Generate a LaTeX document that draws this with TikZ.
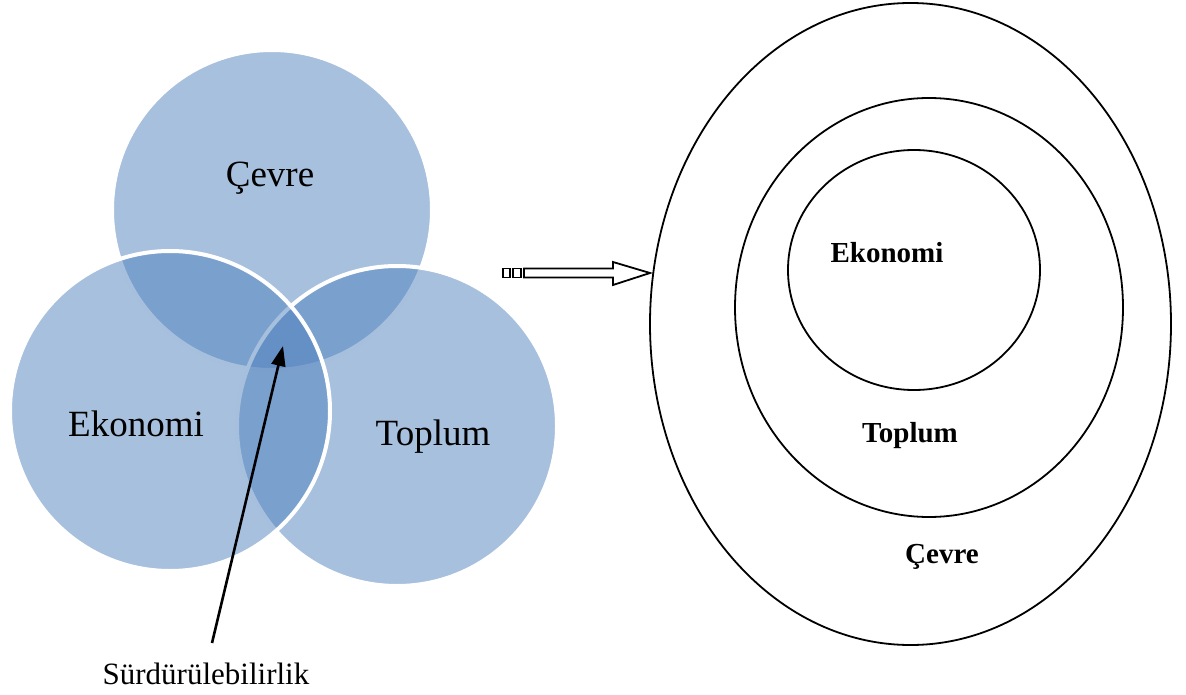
\documentclass[tikz,border=0pt]{standalone}
\usepackage{fontspec}
\setmainfont{Liberation Serif}
\usetikzlibrary{arrows.meta,shapes.geometric}
\definecolor{accent}{RGB}{79,129,189}
\tikzset{
  venn/.style={circle,minimum size=320pt,inner sep=0pt,fill=accent,fill opacity=0.5,draw=white,draw opacity=1,line width=4pt},
  ring/.style={ellipse,draw=black,line width=1.8pt,inner sep=0pt},
  bigtxt/.style={font=\fontsize{37}{40}\selectfont,text=black},
  boldtxt/.style={font=\fontsize{29}{32}\selectfont\bfseries,text=black},
}
\begin{document}
\begin{tikzpicture}[x=1pt,y=-1pt]
\useasboundingbox (0,0) rectangle (1186,695);
% Venn circles
\node[venn] (cevre) at (272,210) {};
\node[venn] (toplum) at (397,426) {};
\node[venn] (ekonomi) at (170,411) {};
\node[bigtxt] at (270,178) {Çevre};
\node[bigtxt] at (136,424) {Ekonomi};
\node[bigtxt] at (433,437) {Toplum};
% Sürdürülebilirlik
\node[font=\fontsize{31}{34}\selectfont] (surd) at (206,674) {Sürdürülebilirlik};
\coordinate (tail) at (212,643);
\coordinate (tip) at (283,346);
\draw[line width=2.6pt,-{Triangle[length=20pt,width=14pt]}] (tail) -- (tip);
% block arrow
\draw[line width=1.8pt] (503,268.5) rectangle (510,277.5);
\draw[line width=1.8pt] (513,268.5) rectangle (521,277.5);
\draw[line width=1.8pt,fill=white] (524,268.5) -- (613,268.5) -- (613,262) -- (650,273) -- (613,285) -- (613,277.5) -- (524,277.5) -- cycle;
% nested ellipses
\node[ring,minimum width=521pt,minimum height=642pt] (outer) at (910.5,324) {};
\node[ring,minimum width=388pt,minimum height=419pt] (middle) at (929,307.5) {};
\node[ring,minimum width=252pt,minimum height=240pt] (inner) at (914,270) {};
\node[boldtxt] at (887,253) {Ekonomi};
\node[boldtxt] at (910,436) {Toplum};
\node[boldtxt] at (942,557) {Çevre};
\end{tikzpicture}
\end{document}
